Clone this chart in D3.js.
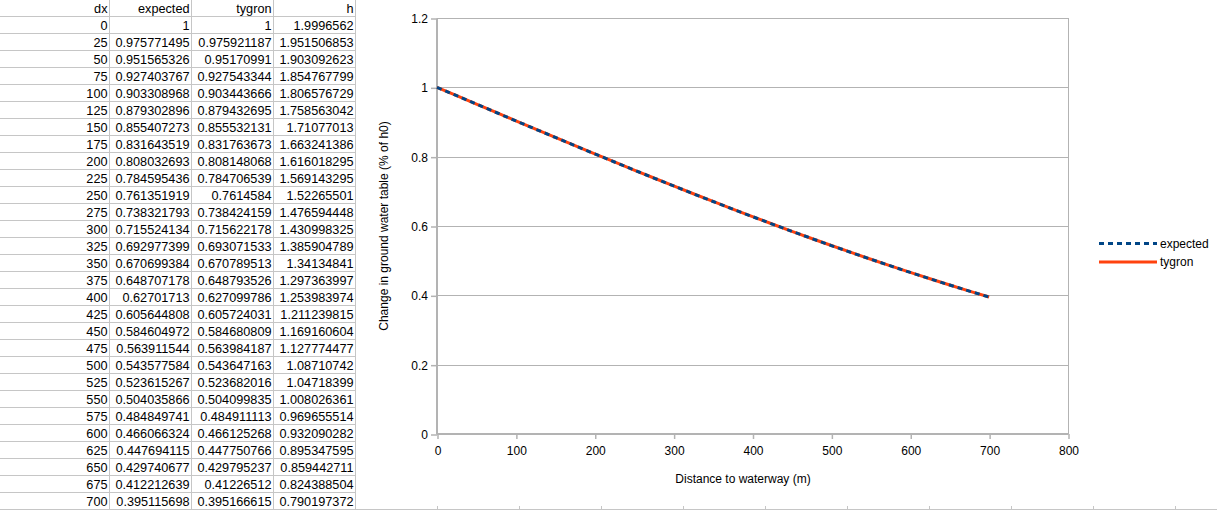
<!DOCTYPE html>
<html><head><meta charset="utf-8">
<script src="https://cdn.jsdelivr.net/npm/d3@7"></script>
<style>
body{margin:0;background:#fff;overflow:hidden}
svg{display:block;font-family:"Liberation Sans",Arial,sans-serif}
</style>
</head><body>
<svg id="c" width="1217" height="510"></svg>
<script>
const headers = ["dx","expected","tygron","h"];
const dx = [0,25,50,75,100,125,150,175,200,225,250,275,300,325,350,375,400,425,450,475,500,525,550,575,600,625,650,675,700];
const expected = [1,0.975771495,0.951565326,0.927403767,0.903308968,0.879302896,0.855407273,0.831643519,0.808032693,0.784595436,0.761351919,0.738321793,0.715524134,0.692977399,0.670699384,0.648707178,0.62701713,0.605644808,0.584604972,0.563911544,0.543577584,0.523615267,0.504035866,0.484849741,0.466066324,0.447694115,0.429740677,0.412212639,0.395115698];
const tygron = [1,0.975921187,0.95170991,0.927543344,0.903443666,0.879432695,0.855532131,0.831763673,0.808148068,0.784706539,0.7614584,0.738424159,0.715622178,0.693071533,0.670789513,0.648793526,0.627099786,0.605724031,0.584680809,0.563984187,0.543647163,0.523682016,0.504099835,0.484911113,0.466125268,0.447750766,0.429795237,0.41226512,0.395166615];
const h = [1.9996562,1.951506853,1.903092623,1.854767799,1.806576729,1.758563042,1.71077013,1.663241386,1.616018295,1.569143295,1.52265501,1.476594448,1.430998325,1.385904789,1.34134841,1.297363997,1.253983974,1.211239815,1.169160604,1.127774477,1.08710742,1.04718399,1.008026361,0.969655514,0.932090282,0.895347595,0.859442711,0.824388504,0.790197372];
const xTicks = [0,100,200,300,400,500,600,700,800];
const yTicks = [0,0.2,0.4,0.6,0.8,1,1.2];
const seriesNames = ["expected","tygron"];
const xTitle = "Distance to waterway (m)";
const yTitle = "Change in ground water table (% of h0)";

const svg = d3.select("#c");
const W = 1217, H = 510;
const gridCol = "#c6c6c6";

// ---- spreadsheet table ----
const colEdges = [109.5,191.5,273.5,355.5];
const rowH = 17;
const table = svg.append("g");
const rows = [headers].concat(dx.map((d,i)=>[d,expected[i],tygron[i],h[i]]));
rows.forEach((r,ri)=>{
  table.append("line").attr("x1",0).attr("x2",356).attr("y1",(ri+1)*rowH-0.5).attr("y2",(ri+1)*rowH-0.5)
    .attr("stroke",gridCol).attr("stroke-width",1);
});
colEdges.forEach(x=>{
  table.append("line").attr("x1",x).attr("x2",x).attr("y1",0).attr("y2",H).attr("stroke",gridCol);
});
rows.forEach((r,ri)=>{
  r.forEach((v,ci)=>{
    table.append("text").attr("x",colEdges[ci]-2).attr("y",ri*rowH+12.8)
      .attr("text-anchor","end").attr("font-size","12.7px").attr("fill","#000").text(String(v));
  });
});
// bottom spreadsheet line peeking under chart
svg.append("line").attr("x1",0).attr("x2",W).attr("y1",509.5).attr("y2",509.5).attr("stroke",gridCol);
d3.range(1,11).forEach(k=>{
  const x = Math.round(355.5+81.9*k)+0.5;
  svg.append("line").attr("x1",x).attr("x2",x).attr("y1",506).attr("y2",510).attr("stroke",gridCol);
});

// ---- chart ----
const x = d3.scaleLinear().domain([0,800]).range([437,1068]);
const y = d3.scaleLinear().domain([0,1.2]).range([434,18]);
const axisCol = "#b3b3b3";
const chart = svg.append("g");

// gridlines
chart.selectAll(".grid").data(yTicks).join("line")
  .attr("x1",x(0)).attr("x2",x(800)).attr("y1",d=>Math.round(y(d))+0.5).attr("y2",d=>Math.round(y(d))+0.5)
  .attr("stroke",axisCol).attr("stroke-width",1);
// right border
chart.append("line").attr("x1",x(800)+0.5).attr("x2",x(800)+0.5).attr("y1",y(1.2)).attr("y2",y(0)).attr("stroke",axisCol);

const yAxis = chart.append("g").attr("transform",`translate(${x(0)},0.5)`)
  .call(d3.axisLeft(y).tickValues(yTicks).tickSize(6).tickPadding(3).tickFormat(d3.format("~g")));
const xAxis = chart.append("g").attr("transform",`translate(0.5,${y(0)})`)
  .call(d3.axisBottom(x).tickValues(xTicks).tickSize(5).tickPadding(7).tickFormat(d3.format("~g")));
[yAxis,xAxis].forEach(a=>{
  a.selectAll("path.domain").attr("stroke",axisCol).attr("stroke-width",2);
  a.selectAll(".tick line").attr("stroke",axisCol).attr("stroke-width",1.5);
  a.selectAll(".tick text").attr("fill","#000").attr("font-size","12px").attr("font-family","Liberation Sans, Arial, sans-serif");
});
yAxis.select("path.domain").attr("d",`M0,${y(1.2)}V${y(0)}`);
xAxis.select("path.domain").attr("d",`M${x(0)},0H${x(800)}`);

// lines
const lineGen = vals => d3.line().x((d,i)=>x(dx[i])).y(d=>y(d))(vals);
chart.append("path").attr("d",lineGen(tygron)).attr("fill","none").attr("stroke","#ff420e").attr("stroke-width",3);
chart.append("path").attr("d",lineGen(expected)).attr("fill","none").attr("stroke","#004586").attr("stroke-width",3).attr("stroke-dasharray","5,4");

// titles
chart.append("text").attr("x",743).attr("y",483).attr("text-anchor","middle").attr("font-size","12px").text(xTitle);
chart.append("text").attr("transform","translate(388,226) rotate(-90)").attr("text-anchor","middle").attr("font-size","12px").text(yTitle);

// legend
const colors = {"expected":"#004586","tygron":"#ff420e"};
const leg = chart.append("g");
seriesNames.forEach((s,i)=>{
  const ly = 243.5 + i*18.5;
  leg.append("line").attr("x1",1099).attr("x2",1157).attr("y1",ly).attr("y2",ly)
    .attr("stroke",colors[s]).attr("stroke-width",3).attr("stroke-dasharray",s==="expected"?"5,4":null);
  leg.append("text").attr("x",1160).attr("y",ly+4.3).attr("font-size","12px").text(s);
});
</script>
</body></html>
